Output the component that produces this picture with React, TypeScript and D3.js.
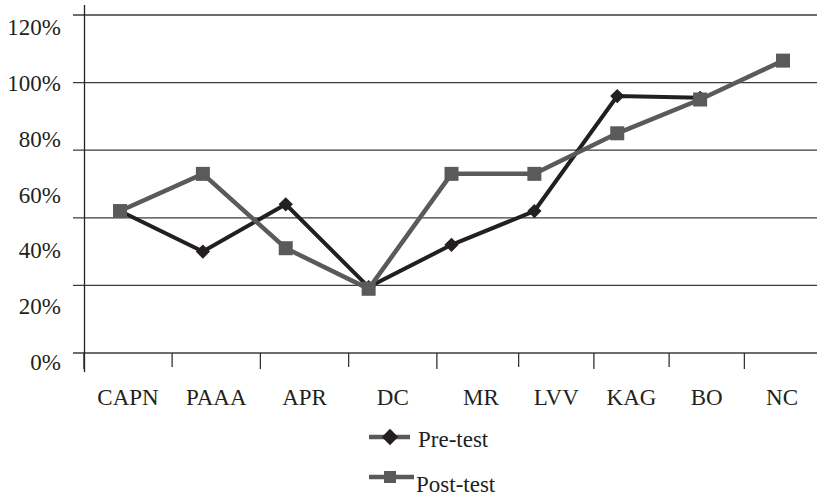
import React from "react";
import * as d3 from "d3";

const categories = ["CAPN", "PAAA", "APR", "DC", "MR", "LVV", "KAG", "BO", "NC"];
const preTest: (number | null)[] = [42, 30, 44, 19.5, 32, 42, 76, 75.5, null];
const postTest: (number | null)[] = [42, 53, 31, 19, 53, 53, 65, 75, 86.5];
const gridTicks = [0, 20, 40, 60, 80, 100];
const yLabelTicks = [0, 20, 40, 60, 80, 100, 120];
const seriesNames = ["Pre-test", "Post-test"];

const W = 817;
const H = 499;
const FONT = "'Liberation Serif', serif";
const PRE_COLOR = "#231f20";
const POST_COLOR = "#5a5a5c";
const GRID_COLOR = "#3c3c3c";
const TEXT_COLOR = "#231f20";

export default function App() {
  const x = d3.scalePoint<string>().domain(categories).range([120, 783]);
  const y = d3.scaleLinear().domain([0, 100]).range([353, 15]);
  const yLabel = d3.scaleLinear().domain([0, 120]).range([362, 27]);
  const xLabel = d3.scaleLinear().domain([0, 4, 8]).range([128, 481, 782]);

  const line = d3
    .line<number | null>()
    .defined((d) => d != null)
    .x((_, i) => x(categories[i]) as number)
    .y((d) => y(d as number));

  const diamond = d3.symbol().type(d3.symbolDiamond2).size(130)();
  const square = d3.symbol().type(d3.symbolSquare).size(196)();
  const legendSquare = d3.symbol().type(d3.symbolSquare).size(144)();
  const legendDiamond = d3.symbol().type(d3.symbolDiamond2).size(170)();

  const textStyle = { fontFamily: FONT, fontSize: "23px", fill: TEXT_COLOR };

  return (
    <svg
      width={W}
      height={H}
      style={{ position: "absolute", left: 0, top: 0, background: "#fff" }}
    >
      {gridTicks.map((t) => (
        <line
          key={"g" + t}
          x1={73}
          x2={W}
          y1={y(t)}
          y2={y(t)}
          stroke={GRID_COLOR}
          strokeWidth={1.3}
        />
      ))}
      <line x1={84.5} x2={84.5} y1={5} y2={372} stroke="#222" strokeWidth={1.3} />
      {categories.map((_, i) => (
        <line
          key={"t" + i}
          x1={xLabel(i - 0.5)}
          x2={xLabel(i - 0.5)}
          y1={y(0)}
          y2={y(0) + (i % 2 === 0 ? 16 : 14)}
          stroke="#333"
          strokeWidth={1.3}
        />
      ))}
      {yLabelTicks.map((t) => (
        <text key={"yl" + t} x={61} y={yLabel(t) + 8} textAnchor="end" style={textStyle}>
          {t}%
        </text>
      ))}
      {categories.map((c, i) => (
        <text key={"xl" + c} x={xLabel(i)} y={405} textAnchor="middle" style={textStyle}>
          {c}
        </text>
      ))}
      <path d={line(preTest) || ""} fill="none" stroke={PRE_COLOR} strokeWidth={4} />
      {preTest.map((v, i) =>
        v == null ? null : (
          <path
            key={"pm" + i}
            d={diamond || ""}
            transform={`translate(${x(categories[i])},${y(v)})`}
            fill={PRE_COLOR}
          />
        )
      )}
      <path d={line(postTest) || ""} fill="none" stroke={POST_COLOR} strokeWidth={4.5} />
      {postTest.map((v, i) =>
        v == null ? null : (
          <path
            key={"qm" + i}
            d={square || ""}
            transform={`translate(${x(categories[i])},${y(v)})`}
            fill={POST_COLOR}
          />
        )
      )}
      <g>
        <line x1={369} x2={410} y1={437} y2={437} stroke={POST_COLOR} strokeWidth={4.5} />
        <path d={legendDiamond || ""} transform="translate(390,437)" fill={PRE_COLOR} />
        <text x={418} y={447} style={textStyle}>
          {seriesNames[0]}
        </text>
        <line x1={369} x2={414} y1={477} y2={477} stroke={POST_COLOR} strokeWidth={4.5} />
        <path d={legendSquare || ""} transform="translate(390,477)" fill={POST_COLOR} />
        <text x={416} y={492} style={textStyle}>
          {seriesNames[1]}
        </text>
      </g>
    </svg>
  );
}
